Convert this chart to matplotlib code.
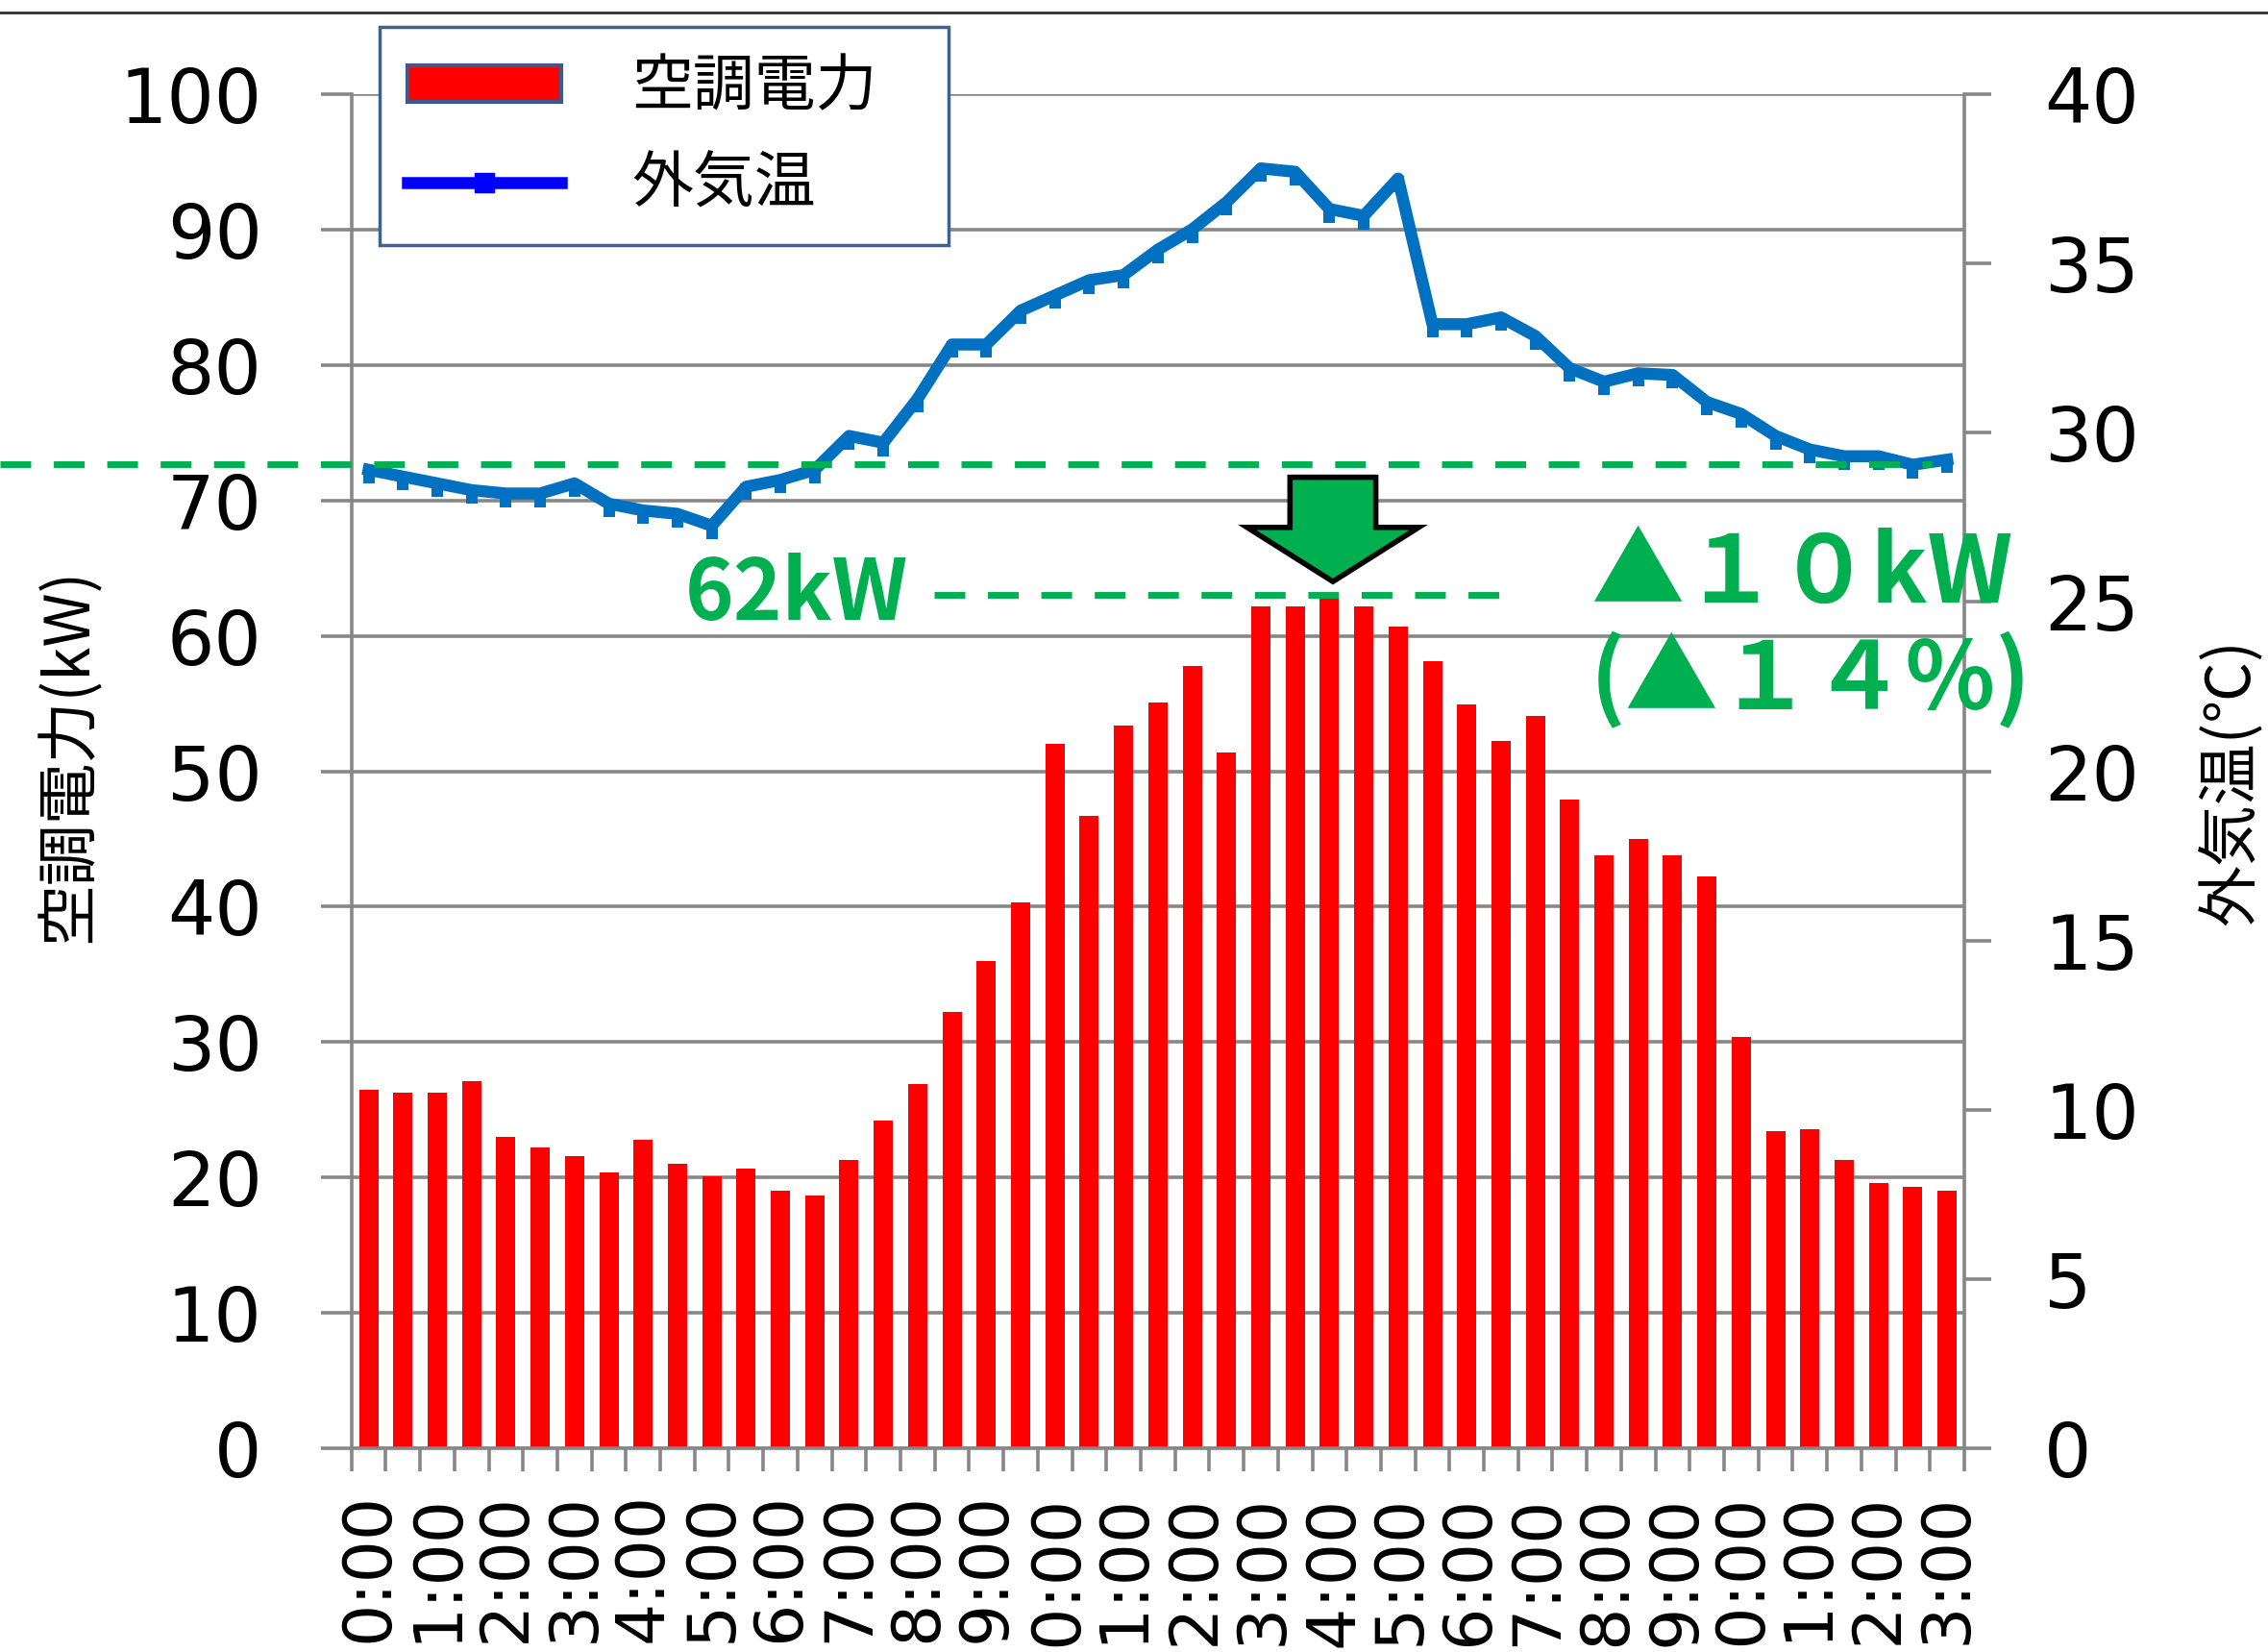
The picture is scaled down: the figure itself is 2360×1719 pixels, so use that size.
import matplotlib
matplotlib.use("Agg")
import matplotlib.pyplot as plt
import matplotlib.transforms as mtransforms
import numpy as np
from matplotlib.lines import Line2D
from matplotlib.patches import Patch, Polygon
from matplotlib.path import Path

CJK = ["Noto Sans CJK JP", "DejaVu Sans"]
GRAY = "#878787"
GREEN = "#00B050"

# half-hour slots, 0:00 .. 23:00
TIME_SLOTS = [
    "0:00", "0:30", "1:00", "1:30", "2:00", "2:30", "3:00", "3:30",
    "4:00", "4:30", "5:00", "5:30", "6:00", "6:30", "7:00", "7:30",
    "8:00", "8:30", "9:00", "9:30", "10:00", "10:30", "11:00", "11:30",
    "12:00", "12:30", "13:00", "13:30", "14:00", "14:30", "15:00", "15:30",
    "16:00", "16:30", "17:00", "17:30", "18:00", "18:30", "19:00", "19:30",
    "20:00", "20:30", "21:00", "21:30", "22:00", "22:30", "23:00",
]

# air-conditioning power (kW)
POWER_KW = [
    26.5, 26.3, 26.3, 27.1, 23.0, 22.2, 21.6, 20.4, 22.8, 21.0,
    20.1, 20.7, 19.0, 18.7, 21.3, 24.2, 26.9, 32.2, 36.0, 40.3,
    52.0, 46.7, 53.4, 55.1, 57.8, 51.4, 62.2, 62.2, 62.8, 62.2,
    60.7, 58.1, 54.9, 52.2, 54.1, 47.9, 43.8, 45.0, 43.8, 42.2,
    30.4, 23.4, 23.6, 21.3, 19.6, 19.3, 19.0,
]

# outdoor temperature (deg C)
TEMP_C = [
    28.9, 28.7, 28.5, 28.3, 28.2, 28.2, 28.5, 27.9, 27.7, 27.6,
    27.25, 28.4, 28.6, 28.9, 29.9, 29.7, 31.0, 32.6, 32.6, 33.6,
    34.05, 34.5, 34.65, 35.4, 36.0, 36.8, 37.8, 37.7, 36.6, 36.4,
    37.5, 33.2, 33.2, 33.4, 32.85, 31.9, 31.5, 31.75, 31.7, 30.9,
    30.55, 29.9, 29.5, 29.3, 29.3, 29.05, 29.2,
]

BEFORE_PEAK_KW = 72.7   # previous peak level (dashed line)
AFTER_PEAK_KW = 63.0    # new peak level ("62kW")
PEAK_SLOT = 28          # 14:00

fig = plt.figure(figsize=(23.6, 17.19), dpi=100)
ax = fig.add_axes([0.15496, 0.12315, 0.71114, 0.82001])
x = np.arange(len(TIME_SLOTS))

ax.bar(x, POWER_KW, width=0.56, color="#FF0000", zorder=2)
ax.set_xlim(-0.5, len(x) - 0.5)
ax.set_ylim(0, 100)
ax.set_yticks(range(0, 101, 10))
ax.yaxis.grid(True, color=GRAY, lw=2.6)
ax.set_axisbelow(True)

ax.set_xticks(x[::2])
ax.set_xticklabels(TIME_SLOTS[::2])
ax.set_xticks(np.arange(-0.5, len(x)), minor=True)
ax.tick_params(axis="x", which="major", length=0, pad=33, labelsize=50, labelrotation=90)
ax.tick_params(axis="x", which="minor", length=17, width=2.6, color=GRAY, direction="out")
ax.tick_params(axis="y", length=23, width=2.6, color=GRAY, labelsize=56, pad=44)

for side in ["top", "right"]:
    ax.spines[side].set_visible(False)
for side in ["left", "bottom"]:
    ax.spines[side].set_color(GRAY)
    ax.spines[side].set_linewidth(2.6)

ax.set_ylabel("空調電力(kW)", fontsize=46, family=CJK)
ax.yaxis.set_label_coords(-0.175, 0.5117)
ax.yaxis.label.set_va("center")

ax2 = ax.twinx()
stub = Path([(-0.42, -1.0), (0.42, -1.0), (0.42, 0.2), (-0.42, 0.2), (-0.42, -1.0)],
            [Path.MOVETO, Path.LINETO, Path.LINETO, Path.LINETO, Path.CLOSEPOLY])
ax2.plot(x, TEMP_C, color="#0070C0", lw=9, marker=stub, ms=20, mew=0, zorder=3)
ax2.set_ylim(0, 40)
ax2.set_yticks(range(0, 41, 5))
ax2.tick_params(axis="y", length=20, width=2.6, color=GRAY, labelsize=56, pad=40)
for side in ["top", "left", "bottom"]:
    ax2.spines[side].set_visible(False)
ax2.spines["right"].set_color(GRAY)
ax2.spines["right"].set_linewidth(2.6)
ax2.set_ylabel("外気温(℃)", fontsize=46, family=CJK, rotation=90)
ax2.yaxis.set_label_coords(1.1656, 0.4918)
ax2.yaxis.label.set_va("center")

# annotations drawn in left-axis units, on top of everything
trans = mtransforms.blended_transform_factory(ax.transAxes, ax.transData)
dash = (0, (4.6, 3.4))
ax2.plot([-0.218, 0.98], [BEFORE_PEAK_KW, BEFORE_PEAK_KW], transform=trans,
         color=GREEN, lw=5, linestyle=dash, clip_on=False, zorder=5)
ax2.plot([0.361, 0.715], [AFTER_PEAK_KW, AFTER_PEAK_KW], transform=trans,
         color=GREEN, lw=5, linestyle=dash, clip_on=False, zorder=5)
ax2.text(0.345, AFTER_PEAK_KW, "62kW", transform=trans, ha="right", va="center",
         color=GREEN, fontsize=62, fontweight="bold", family=CJK, zorder=5)
ax2.text(0.768, 64.5, "▲１０kW", transform=trans, ha="left", va="center",
         color=GREEN, fontsize=70, fontweight="bold", family=CJK, zorder=5, clip_on=False)
ax2.text(0.768, 56.7, "(▲１４%)", transform=trans, ha="left", va="center",
         color=GREEN, fontsize=70, fontweight="bold", family=CJK, zorder=5, clip_on=False)

ax_x, shaft, head = PEAK_SLOT + 0.1, 1.25, 2.5
top, neck, tip = 71.7, 68.0, 64.0
arrow = Polygon([(ax_x - shaft, top), (ax_x + shaft, top), (ax_x + shaft, neck),
                 (ax_x + head, neck), (ax_x, tip), (ax_x - head, neck), (ax_x - shaft, neck)],
                closed=True, transform=ax.transData, facecolor=GREEN, edgecolor="black",
                lw=4, joinstyle="miter", zorder=6)
ax2.add_patch(arrow)

handles = [
    Patch(facecolor="#FF0000", edgecolor="#3B5A8C", lw=3),
    Line2D([], [], color="#0000FF", lw=9, marker="s", ms=14),
]
leg = fig.legend(handles, ["空調電力", "外気温"], loc="upper left", mode="expand",
                 bbox_to_anchor=(395 / 2360, 1 - 258 / 1719, 592 / 2360, 229.5 / 1719),
                 bbox_transform=fig.transFigure,
                 prop={"family": CJK, "size": 46}, frameon=True, fancybox=False,
                 edgecolor="#41618F", framealpha=1, handlelength=2.5, handleheight=0.55,
                 handletextpad=1.15, borderpad=0.46, labelspacing=0.55, borderaxespad=0)
leg.get_frame().set_linewidth(2.5)

fig.add_artist(Line2D([0, 1], [0.9922, 0.9922], transform=fig.transFigure,
                      color="#303030", lw=2))

fig.savefig("out.png", dpi=100)
